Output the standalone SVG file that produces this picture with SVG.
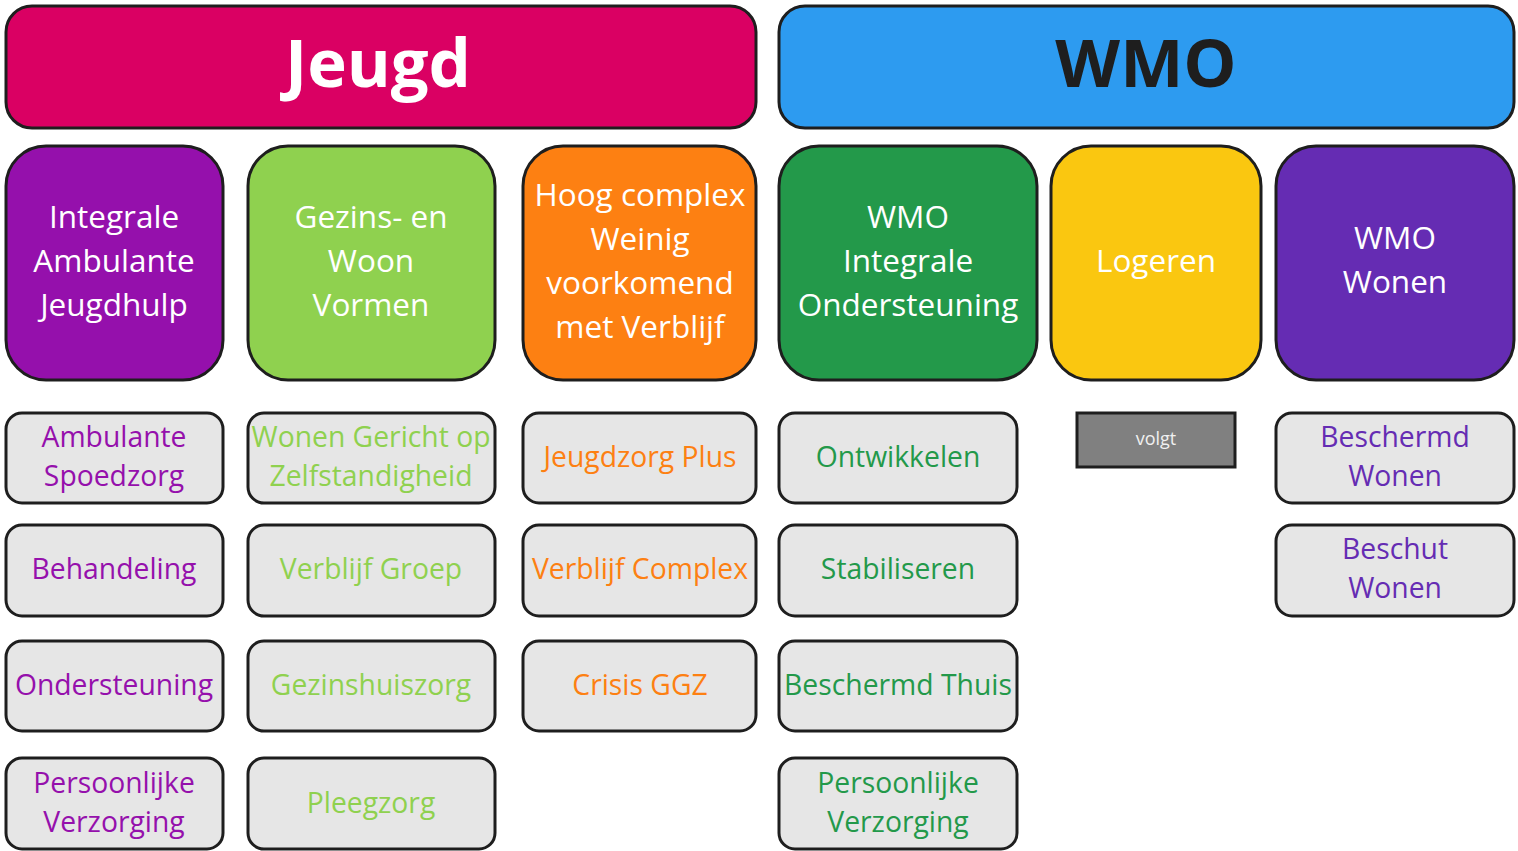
<svg xmlns="http://www.w3.org/2000/svg" width="1518" height="851" viewBox="0 0 1518 851">
<style>
text{font-family:"Open Sans","Liberation Sans",sans-serif;text-anchor:middle}
.hdr{stroke:#1e1e1e;stroke-width:3}
.cat{stroke:#1e1e1e;stroke-width:3}
.sub{fill:#e6e6e6;stroke:#1e1e1e;stroke-width:3}
.ht{font-size:67px;font-weight:bold}
.ct{font-size:31.5px;fill:#ffffff}
.st{font-size:28.3px}
.p1{fill:#9510ac}.g1{fill:#8fd14f}.o1{fill:#fd8012}.g2{fill:#23994a}.p2{fill:#652cb3}
</style>
<rect width="1518" height="851" fill="#ffffff"/>
<g id="jeugd"><rect class="hdr" x="6" y="6" width="750" height="122" rx="26" fill="#da0063"/><text class="ht" x="378" y="87" fill="#ffffff">Jeugd</text></g>
<g id="wmo"><rect class="hdr" x="779" y="6" width="735" height="122" rx="26" fill="#2d9bf0"/><text class="ht" x="1146" y="87" fill="#1e1e1e">WMO</text></g>

<g id="cat-iaj"><rect class="cat" x="6" y="146" width="217" height="234" rx="40" fill="#9510ac"/><text class="ct" x="114" y="228">Integrale</text><text class="ct" x="114" y="272">Ambulante</text><text class="ct" x="114" y="316">Jeugdhulp</text></g>
<g id="cat-gwv"><rect class="cat" x="248" y="146" width="247" height="234" rx="40" fill="#8fd14f"/><text class="ct" x="371" y="228">Gezins- en</text><text class="ct" x="371" y="272">Woon</text><text class="ct" x="371" y="316">Vormen</text></g>
<g id="cat-hc"><rect class="cat" x="523" y="146" width="233" height="234" rx="40" fill="#fd8012"/><text class="ct" x="640" y="206">Hoog complex</text><text class="ct" x="640" y="250">Weinig</text><text class="ct" x="640" y="294">voorkomend</text><text class="ct" x="640" y="338">met Verblijf</text></g>
<g id="cat-wio"><rect class="cat" x="779" y="146" width="258" height="234" rx="40" fill="#23994a"/><text class="ct" x="908" y="228">WMO</text><text class="ct" x="908" y="272">Integrale</text><text class="ct" x="908" y="316">Ondersteuning</text></g>
<g id="cat-log"><rect class="cat" x="1051" y="146" width="210" height="234" rx="40" fill="#fac710"/><text class="ct" x="1156" y="272">Logeren</text></g>
<g id="cat-ww"><rect class="cat" x="1276" y="146" width="238" height="234" rx="40" fill="#652cb3"/><text class="ct" x="1395" y="249">WMO</text><text class="ct" x="1395" y="293">Wonen</text></g>

<g id="s-as"><rect class="sub" x="6" y="413" width="217" height="90" rx="16"/><text class="st p1" x="114" y="447">Ambulante</text><text class="st p1" x="114" y="486">Spoedzorg</text></g>
<g id="s-beh"><rect class="sub" x="6" y="525" width="217" height="91" rx="16"/><text class="st p1" x="114" y="579">Behandeling</text></g>
<g id="s-ond"><rect class="sub" x="6" y="641" width="217" height="90" rx="16"/><text class="st p1" x="114" y="695">Ondersteuning</text></g>
<g id="s-pv1"><rect class="sub" x="6" y="758" width="217" height="91" rx="16"/><text class="st p1" x="114" y="793">Persoonlijke</text><text class="st p1" x="114" y="832">Verzorging</text></g>

<g id="s-wgz"><rect class="sub" x="248" y="413" width="247" height="90" rx="16"/><text class="st g1" x="371" y="447">Wonen Gericht op</text><text class="st g1" x="371" y="486">Zelfstandigheid</text></g>
<g id="s-vg"><rect class="sub" x="248" y="525" width="247" height="91" rx="16"/><text class="st g1" x="371" y="579">Verblijf Groep</text></g>
<g id="s-ghz"><rect class="sub" x="248" y="641" width="247" height="90" rx="16"/><text class="st g1" x="371" y="695">Gezinshuiszorg</text></g>
<g id="s-pz"><rect class="sub" x="248" y="758" width="247" height="91" rx="16"/><text class="st g1" x="371" y="813">Pleegzorg</text></g>

<g id="s-jp"><rect class="sub" x="523" y="413" width="233" height="90" rx="16"/><text class="st o1" x="640" y="467">Jeugdzorg Plus</text></g>
<g id="s-vc"><rect class="sub" x="523" y="525" width="233" height="91" rx="16"/><text class="st o1" x="640" y="579">Verblijf Complex</text></g>
<g id="s-cg"><rect class="sub" x="523" y="641" width="233" height="90" rx="16"/><text class="st o1" x="640" y="695">Crisis GGZ</text></g>

<g id="s-ont"><rect class="sub" x="779" y="413" width="238" height="90" rx="16"/><text class="st g2" x="898" y="467">Ontwikkelen</text></g>
<g id="s-sta"><rect class="sub" x="779" y="525" width="238" height="91" rx="16"/><text class="st g2" x="898" y="579">Stabiliseren</text></g>
<g id="s-bt"><rect class="sub" x="779" y="641" width="238" height="90" rx="16"/><text class="st g2" x="898" y="695">Beschermd Thuis</text></g>
<g id="s-pv2"><rect class="sub" x="779" y="758" width="238" height="91" rx="16"/><text class="st g2" x="898" y="793">Persoonlijke</text><text class="st g2" x="898" y="832">Verzorging</text></g>

<g id="s-volgt"><rect x="1077" y="413" width="158" height="54" fill="#808080" stroke="#1e1e1e" stroke-width="3"/><text x="1156" y="445" font-size="18" fill="#f0f0f0">volgt</text></g>

<g id="s-bw"><rect class="sub" x="1276" y="413" width="238" height="90" rx="16"/><text class="st p2" x="1395" y="447">Beschermd</text><text class="st p2" x="1395" y="486">Wonen</text></g>
<g id="s-bsw"><rect class="sub" x="1276" y="525" width="238" height="91" rx="16"/><text class="st p2" x="1395" y="559">Beschut</text><text class="st p2" x="1395" y="598">Wonen</text></g>

<g id="connectors"></g>
</svg>
